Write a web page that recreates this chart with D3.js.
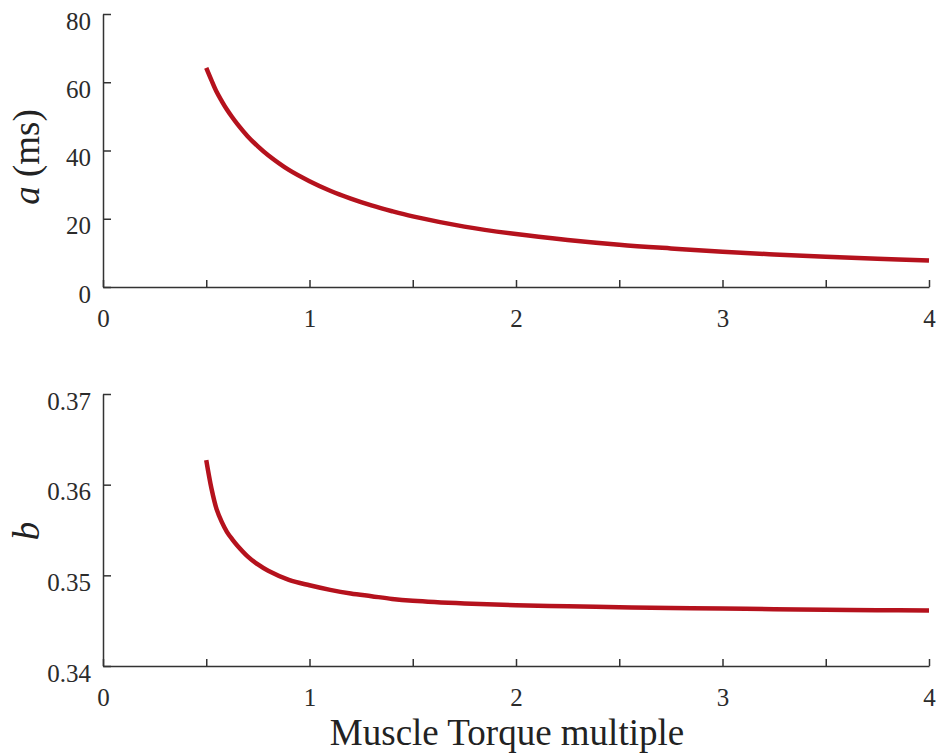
<!DOCTYPE html>
<html>
<head>
<meta charset="utf-8">
<script src="https://cdn.jsdelivr.net/npm/d3@7"></script>
<style>
  body { margin: 0; background: #fff; }
  .domain, .tick line { stroke: #333; stroke-width: 1.5; }
</style>
</head>
<body>
<div id="chart"></div>
<script>
// torque multiple (x) shared by both panels
const torqueMultiple = [0.5, 0.525, 0.55, 0.575, 0.6, 0.625, 0.65, 0.7, 0.75, 0.8, 0.9, 1.0, 1.1, 1.2,
                        1.3, 1.4, 1.5, 1.75, 2.0, 2.25, 2.5, 2.75, 3.0, 3.25, 3.5, 3.75, 4.0];
// parameter a (ms)
const aValues = [64.2, 60.6, 57.2, 54.5, 52.0, 49.8, 47.8, 44.2, 41.2, 38.6, 34.3, 31.0, 28.2, 25.9,
                 23.9, 22.2, 20.7, 17.7, 15.5, 13.8, 12.4, 11.3, 10.3, 9.55, 8.9, 8.3, 7.75];
// parameter b
const bValues = [0.3627, 0.3596, 0.3573, 0.3559, 0.3548, 0.3540, 0.3533, 0.3521, 0.3512, 0.3505,
                 0.3495, 0.3489, 0.3484, 0.3480, 0.3477, 0.3474, 0.3472, 0.3469, 0.3467, 0.34658,
                 0.34648, 0.3464, 0.34633, 0.34627, 0.34621, 0.34616, 0.34611];

const xTicks = [0, 0.5, 1, 1.5, 2, 2.5, 3, 3.5, 4];
const aTicks = [0, 20, 40, 60, 80];
const bTicks = [0.34, 0.35, 0.36, 0.37];

const width = 938, height = 755;
const lineColor = "#b5121d";
const serif = "'Liberation Serif', 'DejaVu Serif', serif";

let svg = d3.select("#chart").append("svg")
    .attr("width", width)
    .attr("height", height);

let x = d3.scaleLinear().domain([0, 4]).range([103, 929]);

// one panel = y scale + axes + curve
function drawPanel(values, yDomain, yRange, yTicks, yFmt) {
    let y = d3.scaleLinear().domain(yDomain).range(yRange);

    let xAxis = d3.axisBottom(x)
        .tickValues(xTicks)
        .tickSize(-7)
        .tickSizeOuter(0)
        .tickPadding(22)
        .tickFormat(d => Number.isInteger(d) ? d : "");
    svg.append("g")
        .attr("transform", "translate(0," + yRange[0] + ")")
        .call(xAxis)
        .attr("font-family", serif)
        .attr("font-size", 25)
        .selectAll(".tick text").attr("fill", "#2b2b2b");

    let yAxis = d3.axisLeft(y)
        .tickValues(yTicks)
        .tickSize(-8)
        .tickSizeOuter(0)
        .tickPadding(12)
        .tickFormat(yFmt);
    let gy = svg.append("g")
        .attr("transform", "translate(103,0)")
        .call(yAxis)
        .attr("font-family", serif)
        .attr("font-size", 25);
    gy.selectAll(".tick text").attr("dy", "15px").attr("fill", "#2b2b2b");

    let line = d3.line()
        .x((d, i) => x(torqueMultiple[i]))
        .y(d => y(d))
        .curve(d3.curveCatmullRom.alpha(0.5));

    svg.append("path")
        .datum(values)
        .attr("d", line)
        .attr("fill", "none")
        .attr("stroke", lineColor)
        .attr("stroke-width", 4.5);
}

drawPanel(aValues, [0, 80], [287, 14], aTicks, d3.format("d"));
drawPanel(bValues, [0.34, 0.37], [666, 394], bTicks, d3.format(".2f"));

// axis titles
let ta = svg.append("text")
    .attr("transform", "translate(39,157) rotate(-90)")
    .attr("text-anchor", "middle")
    .attr("font-family", serif)
    .attr("font-size", 37)
    .attr("fill", "#222");
ta.append("tspan").attr("font-style", "italic").text("a");
ta.append("tspan").text(" (ms)");

svg.append("text")
    .attr("transform", "translate(39,531) rotate(-90)")
    .attr("text-anchor", "middle")
    .attr("font-family", serif)
    .attr("font-size", 37)
    .attr("font-style", "italic")
    .attr("fill", "#222")
    .text("b");

svg.append("text")
    .attr("x", 507)
    .attr("y", 745)
    .attr("text-anchor", "middle")
    .attr("font-family", serif)
    .attr("font-size", 37)
    .attr("fill", "#222")
    .text("Muscle Torque multiple");
</script>
</body>
</html>
